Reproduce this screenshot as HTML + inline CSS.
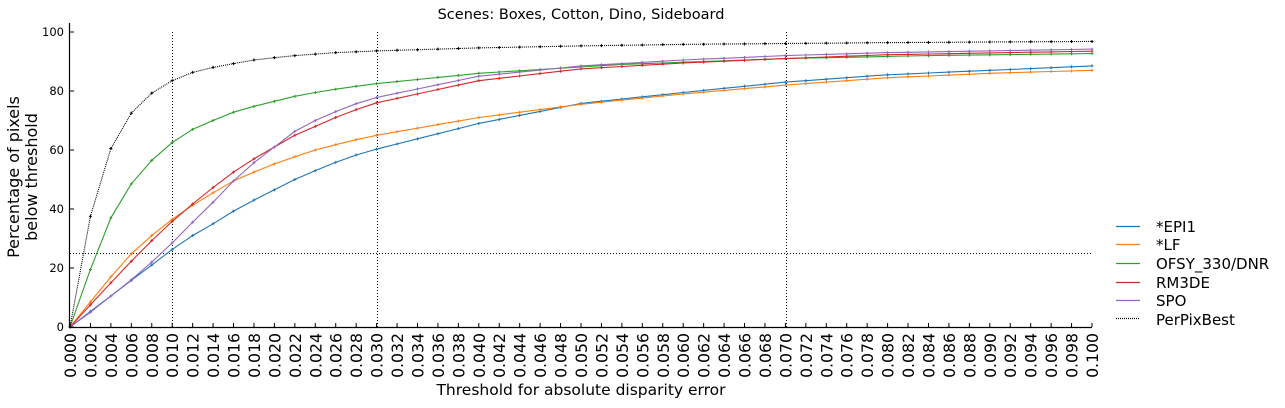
<!DOCTYPE html>
<html><head><meta charset="utf-8"><style>
body{margin:0;background:#fff;width:1285px;height:403px;overflow:hidden}
svg{font-family:"DejaVu Sans","Liberation Sans",sans-serif}
</style></head><body>
<svg id="s" width="1285" height="403" xmlns="http://www.w3.org/2000/svg">
<text x="581" y="19" font-size="14.5" text-anchor="middle">Scenes: Boxes, Cotton, Dino, Sideboard</text>
<text x="581" y="395" font-size="15.5" text-anchor="middle">Threshold for absolute disparity error</text>
<text transform="translate(19,177) rotate(-90)" font-size="16" text-anchor="middle">Percentage of pixels</text>
<text transform="translate(37,177) rotate(-90)" font-size="16" text-anchor="middle">below threshold</text>
<g font-size="11.5" text-anchor="end">
<text x="64" y="331">0</text><text x="64" y="272">20</text><text x="64" y="213">40</text>
<text x="64" y="154">60</text><text x="64" y="95">80</text><text x="64" y="36">100</text>
</g>
<g id="xl" font-size="15.7" text-anchor="end"><text transform="translate(76,333) rotate(-90)">0.000</text><text transform="translate(96.44,333) rotate(-90)">0.002</text><text transform="translate(116.88,333) rotate(-90)">0.004</text><text transform="translate(137.32,333) rotate(-90)">0.006</text><text transform="translate(157.76,333) rotate(-90)">0.008</text><text transform="translate(178.2,333) rotate(-90)">0.010</text><text transform="translate(198.64,333) rotate(-90)">0.012</text><text transform="translate(219.08,333) rotate(-90)">0.014</text><text transform="translate(239.52,333) rotate(-90)">0.016</text><text transform="translate(259.96,333) rotate(-90)">0.018</text><text transform="translate(280.4,333) rotate(-90)">0.020</text><text transform="translate(300.84,333) rotate(-90)">0.022</text><text transform="translate(321.28,333) rotate(-90)">0.024</text><text transform="translate(341.72,333) rotate(-90)">0.026</text><text transform="translate(362.16,333) rotate(-90)">0.028</text><text transform="translate(382.6,333) rotate(-90)">0.030</text><text transform="translate(403.04,333) rotate(-90)">0.032</text><text transform="translate(423.48,333) rotate(-90)">0.034</text><text transform="translate(443.92,333) rotate(-90)">0.036</text><text transform="translate(464.36,333) rotate(-90)">0.038</text><text transform="translate(484.8,333) rotate(-90)">0.040</text><text transform="translate(505.24,333) rotate(-90)">0.042</text><text transform="translate(525.68,333) rotate(-90)">0.044</text><text transform="translate(546.12,333) rotate(-90)">0.046</text><text transform="translate(566.56,333) rotate(-90)">0.048</text><text transform="translate(587,333) rotate(-90)">0.050</text><text transform="translate(607.44,333) rotate(-90)">0.052</text><text transform="translate(627.88,333) rotate(-90)">0.054</text><text transform="translate(648.32,333) rotate(-90)">0.056</text><text transform="translate(668.76,333) rotate(-90)">0.058</text><text transform="translate(689.2,333) rotate(-90)">0.060</text><text transform="translate(709.64,333) rotate(-90)">0.062</text><text transform="translate(730.08,333) rotate(-90)">0.064</text><text transform="translate(750.52,333) rotate(-90)">0.066</text><text transform="translate(770.96,333) rotate(-90)">0.068</text><text transform="translate(791.4,333) rotate(-90)">0.070</text><text transform="translate(811.84,333) rotate(-90)">0.072</text><text transform="translate(832.28,333) rotate(-90)">0.074</text><text transform="translate(852.72,333) rotate(-90)">0.076</text><text transform="translate(873.16,333) rotate(-90)">0.078</text><text transform="translate(893.6,333) rotate(-90)">0.080</text><text transform="translate(914.04,333) rotate(-90)">0.082</text><text transform="translate(934.48,333) rotate(-90)">0.084</text><text transform="translate(954.92,333) rotate(-90)">0.086</text><text transform="translate(975.36,333) rotate(-90)">0.088</text><text transform="translate(995.8,333) rotate(-90)">0.090</text><text transform="translate(1016.24,333) rotate(-90)">0.092</text><text transform="translate(1036.68,333) rotate(-90)">0.094</text><text transform="translate(1057.12,333) rotate(-90)">0.096</text><text transform="translate(1077.56,333) rotate(-90)">0.098</text><text transform="translate(1098,333) rotate(-90)">0.100</text></g>
<g font-size="15">
<text x="1156" y="232">*EPI1</text><text x="1156" y="250">*LF</text><text x="1156" y="269">OFSY_330/DNR</text>
<text x="1156" y="288">RM3DE</text><text x="1156" y="306">SPO</text><text x="1156" y="325">PerPixBest</text>
</g>
<g stroke-width="1.2">
<line x1="1116" x2="1140" y1="226.5" y2="226.5" stroke="#1f77b4"/>
<line x1="1116" x2="1140" y1="244.5" y2="244.5" stroke="#ff7f0e"/>
<line x1="1116" x2="1140" y1="263.5" y2="263.5" stroke="#2ca02c"/>
<line x1="1116" x2="1140" y1="282.5" y2="282.5" stroke="#d62728"/>
<line x1="1116" x2="1140" y1="300.5" y2="300.5" stroke="#9467bd"/>
<line x1="1116" x2="1140" y1="318.5" y2="318.5" stroke="#000" stroke-dasharray="1,1"/>
</g>
<g stroke="#000" stroke-dasharray="1,2" stroke-width="1">
<line x1="70" x2="1092" y1="253.5" y2="253.5"/>
<line x1="172.5" x2="172.5" y1="32" y2="327"/>
<line x1="377.5" x2="377.5" y1="32" y2="327"/>
<line x1="786.5" x2="786.5" y1="32" y2="327"/>
</g>
<g id="curves"></g>
<g stroke="#000" stroke-width="1.2" fill="none">
<line x1="69.5" x2="69.5" y1="23" y2="327.5"/>
<line x1="69" x2="1092" y1="327.5" y2="327.5"/>
</g>
<g id="ticks" stroke="#000" stroke-width="1"></g>
</svg>
<script>
const X=i=>70+i*20.44, Y=v=>327-v*2.95;
const S=[
["#1f77b4","",{0:0,1:5.3,2:10.5,3:15.8,4:21,5:26.3,6:31,7:35,8:39.3,9:43,10:46.5,11:50,12:53,13:55.8,14:58.3,15:60.3,20:69,25:75.8,30:79.5,35:83,40:85.5,45:87,50:88.5}],
["#ff7f0e","",{0:0,1:8.5,2:17,3:24.8,4:31,5:36.5,6:41.3,7:45.5,8:49.5,9:52.5,10:55.3,11:57.7,12:60,13:61.8,14:63.5,15:65,20:71,25:75.5,30:79,35:82,40:84.5,45:86,50:87}],
["#2ca02c","",{0:0,1:19.5,2:37,3:48.5,4:56.5,5:62.5,6:67,7:70,8:72.8,9:74.8,10:76.5,11:78.2,12:79.5,13:80.6,14:81.6,15:82.5,20:86,27:89,35:91,42:92,50:92.7}],
["#d62728","",{0:0,1:7.5,2:15,3:22.3,4:29.3,5:35.8,6:41.7,7:47.3,8:52.5,9:57,10:61,11:65,12:68,13:71,14:73.7,15:76,20:83.5,25:87.5,30:89.5,35:91,40:92.3,50:93.5}],
["#9467bd","",{0:0,1:5,2:10.5,3:16,4:22,5:28.5,6:35.5,7:42.3,8:49.5,9:55.7,10:61,11:66.3,12:70,13:73,14:75.7,15:77.8,20:85,25:88.5,30:90.5,35:92,40:93,50:94.2}],
["#000","1,1",{0:0,1:37.5,2:60.5,3:72.5,4:79.3,5:83.5,6:86.3,7:88,8:89.3,9:90.5,10:91.3,11:92,12:92.5,13:93,15:93.6,20:94.6,25:95.3,30:95.8,35:96.1,40:96.4,50:96.8}]];
let h="";
for(const [c,d,a] of S){const k=Object.keys(a).map(Number).sort((p,q)=>p-q);let pts=[];
for(let i=0;i<=50;i++){let v;if(a[i]!==undefined)v=a[i];else{let lo=k.filter(t=>t<i).pop(),hi=k.find(t=>t>i);v=a[lo]+(a[hi]-a[lo])*(i-lo)/(hi-lo);}pts.push([X(i),Y(v)]);}
h+=`<polyline fill="none" stroke="${c}" stroke-width="1.1" ${d?`stroke-dasharray="${d}"`:""} points="${pts.map(p=>p[0].toFixed(1)+","+p[1].toFixed(1)).join(" ")}"/>`;
for(const p of pts)h+=`<path d="M${p[0]-1.5},${p[1]}h3M${p[0]},${p[1]-1.5}v3" stroke="${c}" stroke-width="1"/>`;}
document.getElementById("curves").innerHTML=h;
let t="";for(let i=0;i<=50;i++)t+=`<line x1="${X(i)}" x2="${X(i)}" y1="327" y2="323"/>`;
for(let v=0;v<=100;v+=20)t+=`<line x1="70" x2="74" y1="${Y(v)}" y2="${Y(v)}"/>`;
document.getElementById("ticks").innerHTML=t;
</script>
</body></html>
